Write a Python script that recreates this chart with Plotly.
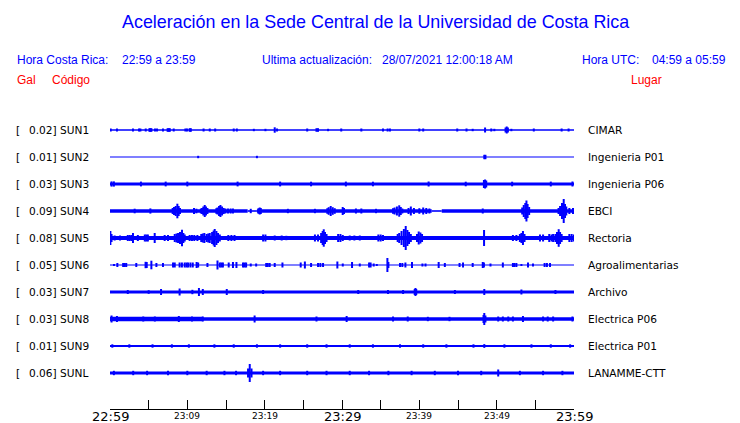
import plotly.graph_objects as go

# ---------------- data ----------------
STATIONS = ["SUN1", "SUN2", "SUN3", "SUN4", "SUN5", "SUN6", "SUN7", "SUN8", "SUN9", "SUNL"]
PEAK_GAL = ["0.02", "0.01", "0.03", "0.09", "0.08", "0.05", "0.03", "0.03", "0.01", "0.06"]
PLACES = ["CIMAR", "Ingenieria P01", "Ingenieria P06", "EBCI", "Rectoria",
          "Agroalimentarias", "Archivo", "Electrica P06", "Electrica P01", "LANAMME-CTT"]

TICK_MINUTES = [0, 10, 20, 30, 40, 50, 60]
TICK_LABELS = ["22:59", "23:09", "23:19", "23:29", "23:39", "23:49", "23:59"]

# background noise level per station: (start minute, end minute, half amplitude)
SUN1_NOISE = [(0, 60, 0.7)]
SUN2_NOISE = [(0, 60, 0.6)]
SUN3_NOISE = [(0, 60, 1.5)]
SUN4_NOISE = [(0, 17.8, 1.7), (17.8, 19.0, 0.8), (19.0, 41.6, 1.7), (41.6, 42.9, 0.8), (42.9, 60, 1.7)]
SUN5_NOISE = [(0, 60, 2.0)]
SUN6_NOISE = [(0, 60, 0.6)]
SUN7_NOISE = [(0, 60, 1.5)]
SUN8_NOISE = [(0, 12, 2.3), (12, 60, 1.8)]
SUN9_NOISE = [(0, 60, 1.1)]
SUNL_NOISE = [(0, 60, 1.4)]

# peaks: (minute after 22:59, half amplitude)
SUN1_PEAKS = [(0.09, 1.5), (0.9, 1.5), (2.97, 1.5), (3.75, 1.5), (3.93, 1.5), (4.62, 1.5), (5.1, 1.8),
              (5.22, 1.8), (5.35, 1.8), (5.82, 1.5), (6.08, 1.5), (6.85, 1.5), (7.45, 1.8), (7.59, 1.8),
              (7.73, 1.8), (8.24, 1.5), (9.75, 1.5), (9.96, 1.5), (10.3, 1.8), (10.45, 1.8), (12.1, 1.5),
              (12.9, 1.5), (13.6, 1.5), (16.0, 1.5), (16.4, 1.5), (18.6, 1.2), (20.1, 1.2), (21.3, 2.7),
              (21.6, 1.5), (25.5, 1.5), (26.7, 1.8), (26.9, 1.8), (28.2, 1.2), (29.9, 1.5), (32.5, 1.5),
              (35.3, 1.5), (35.9, 1.5), (36.2, 1.5), (40.0, 1.5), (40.5, 1.5), (44.9, 1.5), (46.1, 1.5),
              (46.9, 1.2), (48.5, 2.5), (49.3, 1.5), (49.7, 1.2), (51.15, 2.5), (51.3, 3.5), (51.45, 2.5),
              (51.9, 1.2), (54.8, 1.5), (58.4, 1.5), (59.3, 1.5)]
SUN2_PEAKS = [(11.4, 1.2), (19.0, 1.2), (48.4, 2.2), (48.55, 2.2)]
SUN3_PEAKS = [(0.2, 2.6), (0.5, 2.6), (4.0, 2.4), (7.2, 2.4), (10.0, 2.4), (16.5, 2.4), (22.0, 2.4),
              (26.0, 2.3), (30.5, 2.4), (34.0, 2.3), (41.2, 2.5), (46.0, 2.3), (48.35, 4.0), (48.5, 4.5),
              (48.65, 3.5), (52.0, 2.3), (57.0, 2.4), (59.8, 2.5)]
SUN4_PEAKS = [(3.19, 2.3), (5.22, 2.6), (8.1, 3.0), (8.28, 4.0), (8.5, 5.0), (8.71, 7.3), (8.88, 5.0),
              (9.05, 3.0), (10.86, 3.0), (11.17, 2.3), (11.75, 2.5), (11.9, 3.0), (12.07, 4.5), (12.25, 6.0),
              (12.41, 4.5), (12.6, 3.0), (13.75, 2.8), (13.89, 3.5), (14.1, 5.0), (14.28, 6.0), (14.49, 4.5),
              (14.7, 3.0), (14.92, 2.5), (15.26, 2.5), (15.6, 2.5), (15.9, 2.5), (18.2, 2.2), (19.2, 2.8),
              (19.36, 3.5), (19.5, 3.0), (23.0, 2.2), (26.5, 2.2), (28.1, 2.8), (28.28, 3.8), (28.54, 5.0),
              (28.8, 3.8), (29.06, 2.8), (30.09, 4.0), (30.26, 3.0), (31.8, 2.5), (32.5, 2.5), (34.4, 2.2),
              (36.6, 2.8), (36.8, 3.5), (37.1, 4.5), (37.4, 5.7), (37.6, 4.0), (37.8, 2.5), (38.6, 3.0),
              (38.9, 4.5), (39.3, 3.0), (40.0, 2.8), (40.5, 3.5), (40.9, 3.0), (41.3, 2.5), (48.2, 2.5),
              (53.3, 3.5), (53.5, 6.0), (53.7, 8.0), (53.85, 10.5), (54.0, 7.0), (54.2, 4.0), (58.0, 3.0),
              (58.2, 5.0), (58.45, 8.0), (58.67, 12.0), (58.84, 7.0), (59.0, 4.5), (59.4, 3.0), (59.87, 3.0)]
SUN5_PEAKS = [(0.05, 7.0), (0.2, 4.0), (0.6, 2.5), (1.3, 2.5), (2.3, 3.0), (2.55, 3.0), (2.8, 3.0),
              (2.97, 5.0), (3.6, 3.0), (4.5, 3.5), (4.7, 3.5), (4.9, 3.5), (5.78, 5.0), (7.07, 3.0), (7.5, 3.0),
              (8.37, 4.0), (8.6, 4.5), (8.8, 5.0), (9.05, 6.0), (9.31, 8.3), (9.49, 5.0), (9.66, 3.5),
              (10.3, 3.0), (10.6, 3.0), (10.9, 3.0), (11.3, 3.0), (11.8, 4.0), (12.0, 4.5), (12.2, 5.0),
              (12.5, 4.0), (12.7, 4.5), (12.9, 5.0), (13.2, 6.0), (13.4, 7.5), (13.54, 9.0), (13.76, 7.0),
              (13.97, 5.0), (14.2, 3.5), (15.3, 3.0), (15.7, 3.0), (16.1, 3.0), (19.8, 3.5), (20.1, 3.5),
              (21.3, 2.5), (22.2, 2.5), (22.8, 2.2), (26.5, 3.5), (26.9, 3.5), (27.3, 5.0), (27.5, 7.0),
              (27.64, 8.7), (27.8, 6.0), (28.0, 4.0), (29.5, 4.0), (29.8, 4.0), (30.1, 3.0), (31.0, 2.5),
              (31.6, 2.5), (32.3, 2.5), (34.7, 3.5), (35.0, 3.5), (35.3, 3.0), (37.2, 4.0), (37.4, 5.0),
              (37.7, 7.0), (38.0, 9.0), (38.24, 12.0), (38.46, 8.0), (38.67, 6.0), (38.9, 4.0), (39.7, 4.0),
              (39.92, 6.5), (40.14, 5.5), (40.35, 4.0), (48.37, 8.0), (52.1, 3.0), (52.55, 3.0), (53.0, 4.0),
              (53.2, 5.0), (53.4, 7.0), (53.6, 4.0), (55.6, 3.5), (56.0, 3.5), (56.8, 4.0), (57.1, 3.5),
              (57.3, 4.0), (57.6, 4.0), (57.8, 6.0), (58.02, 8.8), (58.2, 6.0), (58.4, 4.0), (59.4, 4.0),
              (59.7, 4.0), (60.0, 3.5)]
SUN6_PEAKS = [(0.52, 1.0), (0.95, 2.0), (1.7, 2.0), (1.9, 2.0), (2.1, 2.0), (3.4, 2.0), (4.6, 3.2),
              (4.75, 3.0), (5.35, 4.3), (6.0, 2.0), (6.85, 2.0), (8.15, 2.5), (8.37, 2.5), (9.0, 2.5),
              (9.3, 2.5), (9.66, 2.5), (9.9, 2.5), (10.1, 2.5), (10.4, 2.5), (10.7, 2.5), (11.2, 3.0),
              (11.4, 2.5), (12.6, 2.0), (13.9, 4.5), (14.2, 2.5), (14.4, 2.5), (14.6, 2.5), (15.35, 2.5),
              (15.9, 3.0), (16.35, 3.0), (17.2, 2.5), (17.4, 2.5), (17.6, 2.5), (18.2, 1.5), (18.9, 1.5),
              (20.2, 2.0), (20.4, 2.0), (20.65, 2.0), (21.3, 2.0), (22.3, 2.5), (24.66, 2.5), (25.2, 3.5),
              (26.0, 2.0), (26.9, 2.0), (27.2, 2.0), (27.55, 2.0), (29.4, 3.5), (30.1, 1.5), (31.3, 3.0),
              (32.3, 1.5), (33.5, 2.5), (33.7, 2.5), (34.1, 1.5), (34.5, 1.0), (35.87, 7.0), (36.0, 3.0),
              (37.5, 2.0), (37.8, 2.0), (38.2, 2.5), (39.05, 3.0), (40.4, 1.5), (40.8, 1.5), (42.5, 3.0),
              (43.3, 2.0), (45.2, 2.0), (45.65, 2.5), (46.9, 2.0), (48.2, 3.0), (48.35, 2.5), (49.2, 1.5),
              (50.8, 2.5), (52.1, 2.0), (52.3, 2.0), (52.55, 2.0), (53.2, 1.0), (54.05, 2.5), (54.7, 1.5),
              (56.2, 2.0), (56.5, 2.0), (56.9, 2.0)]
SUN7_PEAKS = [(2.3, 2.0), (5.0, 1.8), (6.6, 3.0), (9.0, 3.5), (10.65, 2.2), (11.5, 4.0), (12.0, 3.0),
              (15.1, 3.0), (19.8, 2.0), (32.1, 2.0), (35.95, 2.0), (37.9, 2.0), (39.4, 3.0), (39.5, 4.0),
              (39.6, 3.0), (44.6, 2.0), (48.4, 3.0), (53.2, 2.5), (57.6, 2.0)]
SUN8_PEAKS = [(0.2, 3.5), (0.9, 3.0), (4.3, 2.5), (5.8, 2.5), (8.9, 3.0), (10.6, 2.5), (12.0, 2.5),
              (18.7, 3.5), (26.7, 2.5), (30.6, 3.0), (36.6, 2.5), (38.5, 2.5), (41.1, 2.2), (43.9, 2.2),
              (48.3, 4.0), (48.4, 6.0), (48.55, 3.5), (50.2, 2.5), (50.8, 2.5), (51.5, 2.5), (52.1, 2.5),
              (53.4, 3.0), (56.0, 2.5), (56.6, 2.5), (57.3, 2.5), (59.8, 2.5)]
SUN9_PEAKS = [(0.3, 1.7), (2.5, 1.7), (5.5, 1.7), (8.0, 1.7), (10.2, 1.7), (13.5, 1.7), (16.0, 1.7),
              (19.0, 1.7), (22.0, 1.7), (25.5, 1.7), (28.0, 1.7), (31.0, 1.7), (34.0, 1.7), (37.5, 1.7),
              (40.5, 1.7), (43.5, 1.7), (47.0, 1.7), (48.4, 1.9), (51.0, 1.7), (54.5, 1.7), (57.0, 1.7),
              (59.5, 1.7)]
SUNL_PEAKS = [(0.5, 2.2), (3.0, 2.2), (4.8, 2.2), (7.5, 2.2), (10.0, 2.2), (12.5, 2.2), (14.8, 2.2),
              (16.3, 2.2), (17.85, 4.5), (18.07, 9.0), (18.3, 4.5), (19.8, 2.2), (22.0, 2.2), (25.5, 2.2),
              (28.0, 2.2), (31.0, 2.2), (33.5, 2.2), (36.0, 2.2), (39.0, 2.2), (42.0, 2.2), (45.0, 2.2),
              (48.0, 2.2), (50.2, 3.5), (53.0, 2.2), (56.0, 2.2), (58.5, 2.2)]

NOISE = [SUN1_NOISE, SUN2_NOISE, SUN3_NOISE, SUN4_NOISE, SUN5_NOISE,
         SUN6_NOISE, SUN7_NOISE, SUN8_NOISE, SUN9_NOISE, SUNL_NOISE]
PEAKS = [SUN1_PEAKS, SUN2_PEAKS, SUN3_PEAKS, SUN4_PEAKS, SUN5_PEAKS,
         SUN6_PEAKS, SUN7_PEAKS, SUN8_PEAKS, SUN9_PEAKS, SUNL_PEAKS]

# ---------------- layout constants ----------------
W, H = 740, 423
L, R, T, B = 110, 166, 100, 14
PW, PH = W - L - R, H - T - B
SPACING = 27
BLUE = "#0000ff"
RED = "#ff0000"
LABEL_SIZE = 10.6


def xp(px):
    return (px - L) / PW


def yp(py):
    return (H - B - py) / PH


fig = go.Figure()

for i, name in enumerate(STATIONS):
    base = -SPACING * i
    # noise band
    for (t0, t1, h) in NOISE[i]:
        fig.add_trace(go.Scatter(
            x=[t0, t1, t1, t0, t0], y=[base - h, base - h, base + h, base + h, base - h],
            mode="lines", fill="toself", fillcolor=BLUE, line=dict(width=0, color=BLUE),
            hoverinfo="skip", showlegend=False))
    # peaks
    xs, ys = [], []
    for (t, a) in PEAKS[i]:
        xs += [t, t, None]
        ys += [base - a, base + a, None]
    fig.add_trace(go.Scatter(x=xs, y=ys, mode="lines", line=dict(color=BLUE, width=2),
                             hoverinfo="skip", showlegend=False, connectgaps=False))

ann = []
# title and header
ann.append(dict(text="Aceleración en la Sede Central de la Universidad de Costa Rica",
                x=xp(375), y=yp(22), xanchor="center", yanchor="middle",
                font=dict(family="Liberation Sans", size=17.9, color=BLUE)))
hdr = [("Hora Costa Rica:", 15), ("22:59 a 23:59", 120),
       ("Ultima actualización:", 260), ("28/07/2021 12:00:18 AM", 380),
       ("Hora UTC:", 580), ("04:59 a 05:59", 650)]
for txt, px in hdr:
    ann.append(dict(text=txt, x=xp(px), y=yp(60), xanchor="left", yanchor="middle",
                    font=dict(family="Liberation Sans", size=12, color=BLUE)))
for txt, px in [("Gal", 15), ("Código", 50), ("Lugar", 629)]:
    ann.append(dict(text=txt, x=xp(px), y=yp(80), xanchor="left", yanchor="middle",
                    font=dict(family="Liberation Sans", size=12, color=RED)))

# station labels
for i, name in enumerate(STATIONS):
    base = -SPACING * i
    ann.append(dict(text="[", x=xp(14), y=base, yref="y", xanchor="left", yanchor="middle",
                    font=dict(family="DejaVu Sans", size=LABEL_SIZE, color="black")))
    ann.append(dict(text=f"{PEAK_GAL[i]}] {name}", x=xp(27), y=base, yref="y", xanchor="left",
                    yanchor="middle", font=dict(family="DejaVu Sans", size=LABEL_SIZE, color="black")))
    ann.append(dict(text=PLACES[i], x=xp(586), y=base, yref="y", xanchor="left", yanchor="middle",
                    font=dict(family="DejaVu Sans", size=LABEL_SIZE, color="black")))

# time tick labels
for t, lab in zip(TICK_MINUTES, TICK_LABELS):
    big = t % 30 == 0
    ann.append(dict(text=lab, x=t, xref="x", y=yp(416), yref="paper", xanchor="center",
                    yanchor="middle",
                    font=dict(family="DejaVu Sans", size=13 if big else 9, color="black")))

for a in ann:
    a.setdefault("xref", "paper")
    a.setdefault("yref", "paper")
    a["showarrow"] = False

fig.update_layout(
    width=W, height=H, margin=dict(l=L, r=R, t=T, b=B, autoexpand=False),
    paper_bgcolor="white", plot_bgcolor="white", showlegend=False,
    annotations=ann,
    xaxis=dict(range=[0, 60], showgrid=False, zeroline=False, showline=True, linecolor="black",
               linewidth=1, ticks="inside", tickvals=list(range(0, 61, 5)), ticklen=9,
               tickcolor="black", tickwidth=1, showticklabels=False, fixedrange=True),
    yaxis=dict(range=[-(H - B - 130), 130 - T], visible=False, fixedrange=True),
)

fig.write_html("out.html", config={"displayModeBar": False},
               post_script="document.body.style.margin='0';document.body.style.overflow='hidden';")
